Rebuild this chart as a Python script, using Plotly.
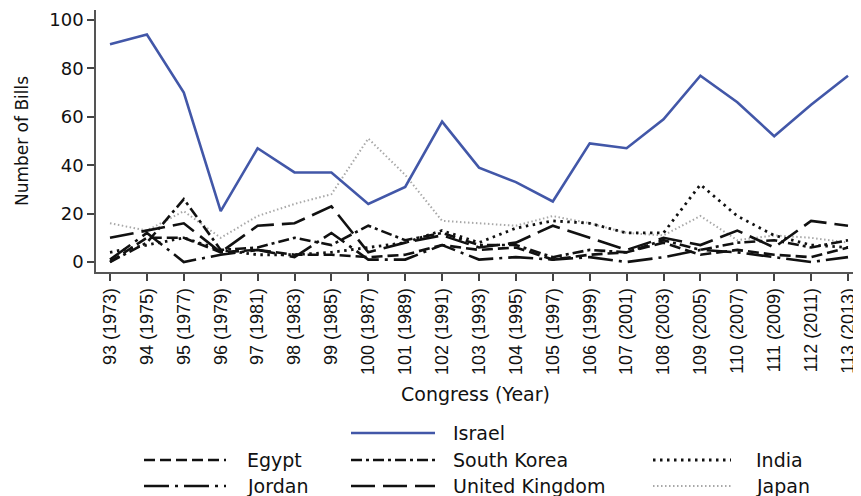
import plotly.graph_objects as go

congress = list(range(93, 114))
years = list(range(1973, 2014, 2))
tick_labels = [f"{c} ({y})" for c, y in zip(congress, years)]
y_ticks = [0, 20, 40, 60, 80, 100]

israel = [90, 94, 70, 21, 47, 37, 37, 24, 31, 58, 39, 33, 25, 49, 47, 59, 77, 66, 52, 65, 77]
japan = [16, 13, 21, 10, 19, 24, 28, 51, 36, 17, 16, 15, 19, 16, 12, 11, 19, 9, 11, 10, 8]
india = [4, 7, 10, 5, 3, 3, 4, 6, 8, 13, 8, 14, 17, 16, 12, 12, 32, 19, 11, 7, 6]
uk = [10, 13, 16, 4, 15, 16, 23, 4, 8, 11, 6, 8, 15, 10, 5, 10, 7, 13, 6, 17, 15]
south_korea = [0, 8, 26, 5, 6, 10, 7, 15, 9, 12, 7, 7, 2, 5, 4, 9, 5, 8, 9, 6, 9]
egypt = [0, 10, 10, 4, 5, 3, 3, 2, 3, 7, 5, 6, 1, 3, 4, 8, 3, 5, 3, 2, 6]
jordan = [1, 12, 0, 3, 5, 2, 12, 1, 1, 7, 1, 2, 1, 2, 0, 2, 5, 4, 2, 0, 2]

FONT = "DejaVu Sans, Liberation Sans, sans-serif"
TICKFONT = "Liberation Sans, Arial, sans-serif"
INK = "#111111"

# name, values, color, width, dash, legend column, legend row
series = [
    ("Japan", japan, "#a8a8a8", 2.0, "1.5px,2.5px", 2, 2),
    ("Jordan", jordan, INK, 2.6, "25px,6px,3px,6px", 0, 2),
    ("Egypt", egypt, INK, 2.6, "11px,5px", 0, 1),
    ("South Korea", south_korea, INK, 2.6, "11px,4px,3px,4px", 1, 1),
    ("United Kingdom", uk, INK, 2.6, "24px,8px", 1, 2),
    ("India", india, INK, 2.8, "2.5px,4.5px", 2, 1),
    ("Israel", israel, "#4257a8", 2.6, "solid", 1, 0),
]

fig = go.Figure()
for name, vals, color, width, dash, _, _ in series:
    fig.add_trace(go.Scatter(
        x=congress, y=vals, mode="lines", name=name,
        line=dict(color=color, width=width, dash=dash),
        showlegend=False,
    ))

# page body has an 8px margin: reference pixel (X, Y) -> figure pixel (X-8, Y-8)
FIG_W, FIG_H = 853, 488
W0, W1 = 96, 855   # plot area in reference pixels
H0, H1 = 10, 272


def px_x(p):
    return (p - W0) / (W1 - W0)


def px_y(p):
    return (H1 - p) / (H1 - H0)


# legend drawn by hand (symbols ~80px long as in the reference)
sym_x = [(144, 226), (351, 435), (653, 731)]
text_x = [245, 451, 754]
row_y = [433, 460, 486]
shapes = []
annotations = []
for name, vals, color, width, dash, col, row in series:
    x0, x1 = sym_x[col]
    yy = px_y(row_y[row])
    shapes.append(dict(
        type="line", xref="paper", yref="paper",
        x0=px_x(x0), x1=px_x(x1), y0=yy, y1=yy,
        line=dict(color=color, width=width, dash=dash),
    ))
    annotations.append(dict(
        text=name, xref="paper", yref="paper",
        x=px_x(text_x[col]), y=yy, xanchor="left", yanchor="middle",
        showarrow=False, font=dict(family=FONT, size=19, color=INK),
    ))

fig.update_layout(
    width=FIG_W, height=FIG_H,
    margin=dict(l=W0 - 8, r=FIG_W - (W1 - 8), t=H0 - 8, b=FIG_H - (H1 - 8), autoexpand=False),
    paper_bgcolor="white", plot_bgcolor="white",
    font=dict(family=FONT, color=INK),
    showlegend=False,
    shapes=shapes,
    annotations=annotations,
)

unit = (262 - 20) / 100.0
y_lo = -(H1 - 262) / unit
y_hi = 100 + (20 - H0) / unit
x_unit = (848 - 110) / 20.0
x_lo = 93 - (110 - W0) / x_unit
x_hi = 113 + (W1 - 848) / x_unit

fig.update_xaxes(
    range=[x_lo, x_hi],
    tickmode="array", tickvals=congress, ticktext=tick_labels,
    tickangle=-90, tickfont=dict(size=18, family=TICKFONT, color=INK),
    ticks="outside", ticklen=7, tickwidth=1.5, tickcolor="#444444",
    showline=True, linecolor="#555555", linewidth=1.5,
    showgrid=False, zeroline=False,
    title=dict(text="Congress (Year)", font=dict(size=19, family=FONT, color=INK), standoff=14),
)
fig.update_yaxes(
    range=[y_lo, y_hi],
    tickmode="array", tickvals=y_ticks,
    tickfont=dict(size=18, family=FONT, color=INK),
    ticks="outside", ticklen=7, tickwidth=1.5, tickcolor="#444444",
    showline=True, linecolor="#555555", linewidth=1.5,
    showgrid=False, zeroline=False,
    title=dict(text="Number of Bills", font=dict(size=17, family=FONT, color=INK), standoff=16),
)

fig.write_html("out.html")
